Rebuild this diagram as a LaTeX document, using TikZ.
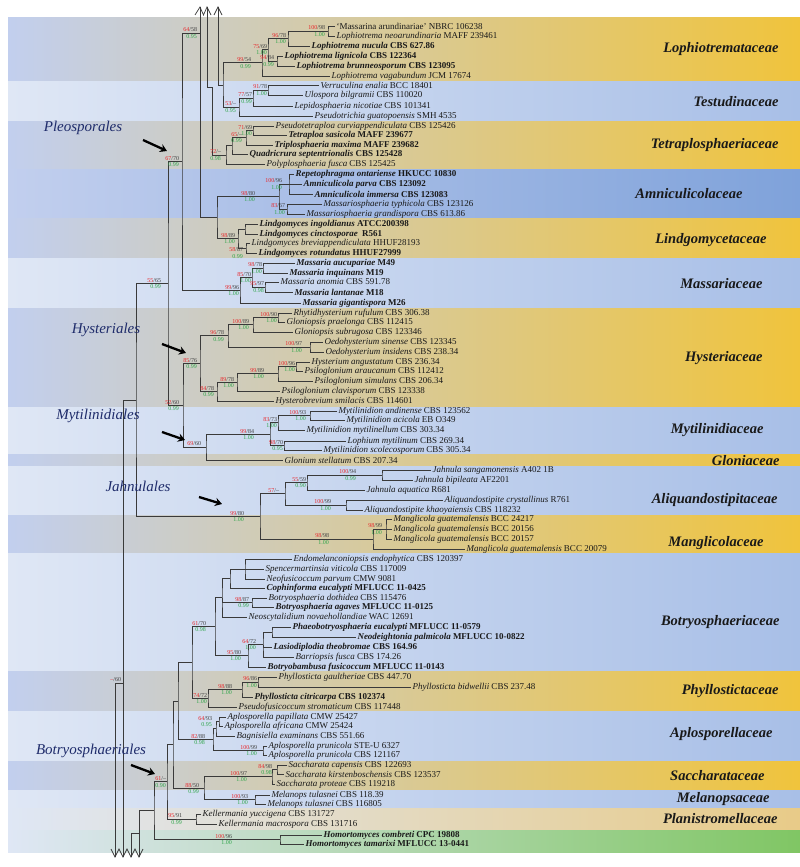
\documentclass[tikz,border=0pt]{standalone}
\usepackage{fontspec}
\setmainfont{Liberation Serif}
\usepackage{tikz}
\usetikzlibrary{arrows.meta, calc}
\definecolor{bandblue}{HTML}{C2CFEE}
\definecolor{bandlight}{HTML}{DFE7F5}
\definecolor{bandgold}{HTML}{F0C43C}
\definecolor{bandsky}{HTML}{A8BFE7}
\definecolor{banddeep}{HTML}{7FA2DA}
\definecolor{bandtan}{HTML}{E8CB88}
\definecolor{bandgreen}{HTML}{80C664}
\definecolor{ordblue}{HTML}{1F2C6B}
\definecolor{bred}{HTML}{E8262A}
\definecolor{bgreen}{HTML}{2FA54A}
\definecolor{treeline}{HTML}{3A3A3A}
\tikzset{
  br/.style={draw=treeline, line width=0.85pt},
  leaf/.style={anchor=west, inner xsep=0pt, inner ysep=0.5pt, outer xsep=1.5pt, font=\fontsize{9}{10}\selectfont, text=black!90},
  supr/.style={anchor=south east, inner sep=0pt, outer sep=1pt, font=\fontsize{6}{6}\selectfont, text=black!75},
  supg/.style={anchor=north east, inner sep=0pt, outer sep=1.2pt, font=\fontsize{6}{6}\selectfont, text=bgreen},
  famlab/.style={anchor=east, font=\fontsize{14.5}{15}\selectfont\bfseries\itshape, text=black!90},
  ordlab/.style={font=\fontsize{15}{16}\selectfont\itshape, text=ordblue},
  ordarrow/.style={line width=2.3pt, -{Stealth[length=7pt,width=8.5pt,inset=2.5pt]}},
}
\newcommand{\tn}[2]{\textit{#1} #2}
\newcommand{\tbn}[2]{\textbf{\textit{#1} #2}}
\newcommand{\supp}[5][0pt]{%
  \node[supr] at ([xshift=#1]#2) {\textcolor{bred}{#3}/#4};
  \node[supg] at ([xshift=#1]#2) {#5};}

\begin{document}
\begin{tikzpicture}[x=1pt, y=-1pt]
  \useasboundingbox (0,0) rectangle (800,867);
  \fill[white] (0,0) rectangle (800,867);

  % coloured family bands
  \foreach \ya/\yb/\cl/\cr in {18/81/bandblue/bandgold, 81/121/bandlight/bandsky,
      121/169/bandblue/bandgold, 169/218/bandblue/banddeep, 218/258/bandblue/bandgold,
      258/308/bandlight/bandsky, 308/407/bandblue/bandgold, 407/454/bandlight/bandsky,
      454/466/bandblue/bandgold, 466/515/bandlight/bandsky, 515/553/bandblue/bandgold,
      553/671/bandlight/bandsky, 671/711/bandblue/bandgold, 711/761/bandlight/bandsky,
      761/790/bandblue/bandgold, 790/808/bandlight/bandsky, 808/830/bandlight/bandtan,
      830/852/bandlight/bandgreen}
    \fill[left color=\cl, right color=\cr] (8,\ya) rectangle (800,\yb);

  % leaves
  \node[leaf] (l1) at (335,26) {`Massarina arundinariae' NBRC 106238};
  \node[leaf] (l2) at (335,36) {\tn{Lophiotrema neoarundinaria}{MAFF 239461}};
  \node[leaf] (l3) at (310,46) {\tbn{Lophiotrema nucula}{CBS 627.86}};
  \node[leaf] (l4) at (283,56) {\tbn{Lophiotrema lignicola}{CBS 122364}};
  \node[leaf] (l5) at (295,66) {\tbn{Lophiotrema brunneosporum}{CBS 123095}};
  \node[leaf] (l6) at (330,76) {\tn{Lophiotrema vagabundum}{JCM 17674}};
  \node[leaf] (l7) at (319,85) {\tn{Verruculina enalia}{BCC 18401}};
  \node[leaf] (l8) at (303,95) {\tn{Ulospora bilgramii}{CBS 110020}};
  \node[leaf] (l9) at (293,106) {\tn{Lepidosphaeria nicotiae}{CBS 101341}};
  \node[leaf] (l10) at (313,116) {\tn{Pseudotrichia guatopoensis}{SMH 4535}};
  \node[leaf] (l11) at (274,126) {\tn{Pseudotetraploa curviappendiculata}{CBS 125426}};
  \node[leaf] (l12) at (287,135) {\tbn{Tetraploa sasicola}{MAFF 239677}};
  \node[leaf] (l13) at (273,145) {\tbn{Triplosphaeria maxima}{MAFF 239682}};
  \node[leaf] (l14) at (248,154) {\tbn{Quadricrura septentrionalis}{CBS 125428}};
  \node[leaf] (l15) at (265,164) {\tn{Polyplosphaeria fusca}{CBS 125425}};
  \node[leaf] (l16) at (294,174) {\tbn{Repetophragma ontariense}{HKUCC 10830}};
  \node[leaf] (l17) at (302,184) {\tbn{Amniculicola parva}{CBS 123092}};
  \node[leaf] (l18) at (313,194) {\tbn{Amniculicola immersa}{CBS 123083}};
  \node[leaf] (l19) at (322,204) {\tn{Massariosphaeria typhicola}{CBS 123126}};
  \node[leaf] (l20) at (305,214) {\tn{Massariosphaeria grandispora}{CBS 613.86}};
  \node[leaf] (l21) at (258,224) {\tbn{Lindgomyces ingoldianus}{ATCC200398}};
  \node[leaf] (l22) at (258,234) {\tbn{Lindgomyces cinctosporae}{ R561}};
  \node[leaf] (l23) at (250,243) {\tn{Lindgomyces breviappendiculata}{HHUF28193}};
  \node[leaf] (l24) at (257,253) {\tbn{Lindgomyces rotundatus}{HHUF27999}};
  \node[leaf] (l25) at (295,263) {\tbn{Massaria aucupariae}{M49}};
  \node[leaf] (l26) at (288,273) {\tbn{Massaria inquinans}{M19}};
  \node[leaf] (l27) at (279,282) {\tn{Massaria anomia}{CBS 591.78}};
  \node[leaf] (l28) at (293,292) {\tbn{Massaria lantanae}{M18}};
  \node[leaf] (l29) at (301,303) {\tbn{Massaria gigantispora}{M26}};
  \node[leaf] (l30) at (292,313) {\tn{Rhytidhysterium rufulum}{CBS 306.38}};
  \node[leaf] (l31) at (285,322) {\tn{Gloniopsis praelonga}{CBS 112415}};
  \node[leaf] (l32) at (293,332) {\tn{Gloniopsis subrugosa}{CBS 123346}};
  \node[leaf] (l33) at (323,342) {\tn{Oedohysterium sinense}{CBS 123345}};
  \node[leaf] (l34) at (324,352) {\tn{Oedohysterium insidens}{CBS 238.34}};
  \node[leaf] (l35) at (310,362) {\tn{Hysterium angustatum}{CBS 236.34}};
  \node[leaf] (l36) at (303,371) {\tn{Psiloglonium araucanum}{CBS 112412}};
  \node[leaf] (l37) at (313,381) {\tn{Psiloglonium simulans}{CBS 206.34}};
  \node[leaf] (l38) at (280,391) {\tn{Psiloglonium clavisporum}{CBS 123338}};
  \node[leaf] (l39) at (274,401) {\tn{Hysterobrevium smilacis}{CBS 114601}};
  \node[leaf] (l40) at (337,411) {\tn{Mytilinidion andinense}{CBS 123562}};
  \node[leaf] (l41) at (345,420) {\tn{Mytilinidion acicola}{EB O349}};
  \node[leaf] (l42) at (305,430) {\tn{Mytilinidion mytilinellum}{CBS 303.34}};
  \node[leaf] (l43) at (346,441) {\tn{Lophium mytilinum}{CBS 269.34}};
  \node[leaf] (l44) at (322,450) {\tn{Mytilinidion scolecosporum}{CBS 305.34}};
  \node[leaf] (l45) at (283,460) {\tn{Glonium stellatum}{CBS 207.34}};
  \node[leaf] (l46) at (431,470) {\tn{Jahnula sangamonensis}{A402 1B}};
  \node[leaf] (l47) at (413,480) {\tn{Jahnula bipileata}{AF2201}};
  \node[leaf] (l48) at (365,490) {\tn{Jahnula aquatica}{R681}};
  \node[leaf] (l49) at (443,500) {\tn{Aliquandostipite crystallinus}{R761}};
  \node[leaf] (l50) at (363,510) {\tn{Aliquandostipite khaoyaiensis}{CBS 118232}};
  \node[leaf] (l51) at (392,519) {\tn{Manglicola guatemalensis}{BCC 24217}};
  \node[leaf] (l52) at (392,529) {\tn{Manglicola guatemalensis}{BCC 20156}};
  \node[leaf] (l53) at (392,539) {\tn{Manglicola guatemalensis}{BCC 20157}};
  \node[leaf] (l54) at (465,549) {\tn{Manglicola guatemalensis}{BCC 20079}};
  \node[leaf] (l55) at (292,559) {\tn{Endomelanconiopsis endophytica}{CBS 120397}};
  \node[leaf] (l56) at (264,569) {\tn{Spencermartinsia viticola}{CBS 117009}};
  \node[leaf] (l57) at (265,579) {\tn{Neofusicoccum parvum}{CMW 9081}};
  \node[leaf] (l58) at (265,588) {\tbn{Cophinforma eucalypti}{MFLUCC 11-0425}};
  \node[leaf] (l59) at (267,598) {\tn{Botryosphaeria dothidea}{CBS 115476}};
  \node[leaf] (l60) at (274,607) {\tbn{Botryosphaeria agaves}{MFLUCC 11-0125}};
  \node[leaf] (l61) at (247,617) {\tn{Neoscytalidium novaehollandiae}{WAC 12691}};
  \node[leaf] (l62) at (291,627) {\tbn{Phaeobotryosphaeria eucalypti}{MFLUCC 11-0579}};
  \node[leaf] (l63) at (356,637) {\tbn{Neodeightonia palmicola}{MFLUCC 10-0822}};
  \node[leaf] (l64) at (272,647) {\tbn{Lasiodiplodia theobromae}{CBS 164.96}};
  \node[leaf] (l65) at (294,657) {\tn{Barriopsis fusca}{CBS 174.26}};
  \node[leaf] (l66) at (266,667) {\tbn{Botryobambusa fusicoccum}{MFLUCC 11-0143}};
  \node[leaf] (l67) at (277,677) {\tn{Phyllosticta gaultheriae}{CBS 447.70}};
  \node[leaf] (l68) at (411,687) {\tn{Phyllosticta bidwellii}{CBS 237.48}};
  \node[leaf] (l69) at (253,697) {\tbn{Phyllosticta citricarpa}{CBS 102374}};
  \node[leaf] (l70) at (237,707) {\tn{Pseudofusicoccum stromaticum}{CBS 117448}};
  \node[leaf] (l71) at (226,717) {\tn{Aplosporella papillata}{CMW 25427}};
  \node[leaf] (l72) at (223,726) {\tn{Aplosporella africana}{CMW 25424}};
  \node[leaf] (l73) at (235,736) {\tn{Bagnisiella examinans}{CBS 551.66}};
  \node[leaf] (l74) at (267,746) {\tn{Aplosporella prunicola}{STE-U 6327}};
  \node[leaf] (l75) at (267,755) {\tn{Aplosporella prunicola}{CBS 121167}};
  \node[leaf] (l76) at (287,765) {\tn{Saccharata capensis}{CBS 122693}};
  \node[leaf] (l77) at (284,774) {\tn{Saccharata kirstenboschensis}{CBS 123537}};
  \node[leaf] (l78) at (275,784) {\tn{Saccharata proteae}{CBS 119218}};
  \node[leaf] (l79) at (270,795) {\tn{Melanops tulasnei}{CBS 118.39}};
  \node[leaf] (l80) at (266,804) {\tn{Melanops tulasnei}{CBS 116805}};
  \node[leaf] (l81) at (201,814) {\tn{Kellermania yuccigena}{CBS 131727}};
  \node[leaf] (l82) at (217,824) {\tn{Kellermania macrospora}{CBS 131716}};
  \node[leaf] (l83) at (322,835) {\tbn{Homortomyces combreti}{CPC 19808}};
  \node[leaf] (l84) at (304,844) {\tbn{Homortomyces tamarixi}{MFLUCC 13-0441}};

  % inner nodes
  \coordinate (n1) at (328,31);     \coordinate (n2) at (288,38.5);
  \coordinate (n3) at (277,61);     \coordinate (n4) at (268,49.75);
  \coordinate (n5) at (262,62.9);   \coordinate (n6) at (268,90);
  \coordinate (n7) at (253,98);     \coordinate (n8) at (239,107);
  \coordinate (n9) at (223,85);     \coordinate (n10) at (253,130.5);
  \coordinate (n11) at (246,137.75); \coordinate (n12) at (232,145.9);
  \coordinate (n13) at (226,155);   \coordinate (n14) at (212,87);
  \coordinate (n15) at (289,184);   \coordinate (n16) at (287,209);
  \coordinate (n17) at (279,196.5); \coordinate (n18) at (245,229);
  \coordinate (n19) at (246,248);   \coordinate (n20) at (238,238.5);
  \coordinate (n19s) at (248,253);
  \coordinate (n21) at (217,217.5); \coordinate (n22) at (200,33);
  \coordinate (n23) at (263,268);   \coordinate (n24) at (265,287);
  \coordinate (n25) at (252,277.5); \coordinate (n26) at (240,290.25);
  \coordinate (n27) at (182,161.6); \coordinate (n28) at (278,317.5);
  \coordinate (n29) at (253,324.75); \coordinate (n30) at (310,347);
  \coordinate (n31) at (228,335.9); \coordinate (n32) at (296,366.5);
  \coordinate (n33) at (278,373.75); \coordinate (n34) at (237,382.4);
  \coordinate (n35) at (217,391.7); \coordinate (n36) at (200,363.8);
  \coordinate (n37) at (310,415.5); \coordinate (n38) at (278,422.75);
  \coordinate (n39) at (284,445.5); \coordinate (n40) at (270,434.1);
  \coordinate (n41) at (206,447);   \coordinate (n42) at (183,405.4);
  \coordinate (n43) at (168,283.5); \coordinate (n44) at (382,475);
  \coordinate (n45) at (307,482.5); \coordinate (n46) at (346,505);
  \coordinate (n47) at (285,493.75); \coordinate (n48) at (386,529);
  \coordinate (n49) at (373,539);   \coordinate (n50) at (260,516.4);
  \coordinate (n51) at (136,400);   \coordinate (n52) at (123,400);
  \coordinate (n53) at (245,569);   \coordinate (n54) at (230,578.5);
  \coordinate (n55) at (252,602.5); \coordinate (n56) at (222,597.75);
  \coordinate (n57) at (272,632);   \coordinate (n58) at (263,644.5);
  \coordinate (n59) at (248,655.75); \coordinate (n60) at (215,626.75);
  \coordinate (n61) at (258,682);   \coordinate (n62) at (242,689.5);
  \coordinate (n63) at (208,698.25); \coordinate (n64) at (192,662.5);
  \coordinate (n65) at (219,721.5); \coordinate (n66) at (216,728.75);
  \coordinate (n67) at (263,750.5); \coordinate (n68) at (213,739.6);
  \coordinate (n69) at (178,701);   \coordinate (n70) at (277,769.5);
  \coordinate (n71) at (272,776.75); \coordinate (n73) at (255,799.5);
  \coordinate (n74) at (204,788.1); \coordinate (n75) at (173,744.6);
  \coordinate (n76) at (196,819);   \coordinate (n77) at (167,781.8);
  \coordinate (n78) at (280,839.5); \coordinate (n79) at (154,810.65);
  \coordinate (n80) at (139,810.65); \coordinate (n82) at (131,833);
  \coordinate (n83) at (139,833);   \coordinate (nq) at (115,683);
  \coordinate (nqj) at (123,683);
  % broken line ends
  \coordinate (t1) at (200,7); \coordinate (t2) at (207,7); \coordinate (t3) at (218,7);
  \coordinate (z1) at (115,857); \coordinate (z2) at (123,857);
  \coordinate (z3) at (131,857); \coordinate (z4) at (139,857);

  % Pleosporales
  \draw[br] (l1) -| (n1) |- (l2);
  \draw[br] (n1) -| (n2) |- (l3);
  \draw[br] (l4) -| (n3) |- (l5);
  \draw[br] (n2) -| (n4) |- (n3);
  \draw[br] (n4) -| (n5) |- (l6);
  \draw[br] (l7) -| (n6) |- (l8);
  \draw[br] (n6) -| (n7) |- (l9);
  \draw[br] (n7) -| (n8) |- (l10);
  \draw[br] (n5) -| (n9) |- (n8);
  \draw[br] (t3) |- (n9);
  \draw[br] (l11) -| (n10) |- (l12);
  \draw[br] (n10) -| (n11) |- (l13);
  \draw[br] (n11) -| (n12) |- (l14);
  \draw[br] (n12) -| (n13) |- (l15);
  \draw[br] (t2) |- (n14) |- (n13);
  \draw[br] (l16) -| (n15) |- (l18);
  \draw[br] (n15) -- (l17);
  \draw[br] (l19) -| (n16) |- (l20);
  \draw[br] (n15) -| (n17) |- (n16);
  \draw[br] (l21) -| (n18) |- (l22);
  \draw[br] (l23) -| (n19) |- (l24);
  \draw[br] (n18) -| (n20) |- (n19);
  \draw[br] (n17) -| (n21) |- (n20);
  \draw[br] (t1) |- (n21);
  \draw[br] (l25) -| (n23) |- (l26);
  \draw[br] (l27) -| (n24) |- (l28);
  \draw[br] (n23) -| (n25) |- (n24);
  \draw[br] (n25) -| (n26) |- (l29);
  \draw[br] (n22) -| (n27) |- (n26);
  % Hysteriales, Mytilinidiales
  \draw[br] (l30) -| (n28) |- (l31);
  \draw[br] (n28) -| (n29) |- (l32);
  \draw[br] (l33) -| (n30) |- (l34);
  \draw[br] (n29) -| (n31) |- (n30);
  \draw[br] (l35) -| (n32) |- (l36);
  \draw[br] (n32) -| (n33) |- (l37);
  \draw[br] (n33) -| (n34) |- (l38);
  \draw[br] (n34) -| (n35) |- (l39);
  \draw[br] (n31) -| (n36) |- (n35);
  \draw[br] (l40) -| (n37) |- (l41);
  \draw[br] (n37) -| (n38) |- (l42);
  \draw[br] (l43) -| (n39) |- (l44);
  \draw[br] (n38) -| (n40) |- (n39);
  \draw[br] (n40) -| (n41) |- (l45);
  \draw[br] (n36) -| (n42) |- (n41);
  \draw[br] (n27) -| (n43) |- (n42);
  % Jahnulales
  \draw[br] (l46) -| (n44) |- (l47);
  \draw[br] (n44) -| (n45) |- (l48);
  \draw[br] (l49) -| (n46) |- (l50);
  \draw[br] (n45) -| (n47) |- (n46);
  \draw[br] (l51) -| (n48) |- (l53);
  \draw[br] (n48) -- (l52);
  \draw[br] (n48) -| (n49) |- (l54);
  \draw[br] (n47) -| (n50) |- (n49);
  \draw[br] (n43) -| (n51) |- (n50);
  \draw[br] (n51) -- (n52) -- (z2);
  % Botryosphaeriales
  \draw[br] (l55) -| (n53) |- (l57);
  \draw[br] (n53) -- (l56);
  \draw[br] (n53) -| (n54) |- (l58);
  \draw[br] (l59) -| (n55) |- (l60);
  \draw[br] (n54) -| (n56) |- (l61);
  \draw[br] (n56) |- (n55);
  \draw[br] (l62) -| (n57) |- (l63);
  \draw[br] (n57) -| (n58) |- (l65);
  \draw[br] (n58) |- (l64);
  \draw[br] (n58) -| (n59) |- (l66);
  \draw[br] (n56) -| (n60) |- (n59);
  \draw[br] (l67) -| (n61) |- (l68);
  \draw[br] (n61) -| (n62) |- (l69);
  \draw[br] (n62) -| (n63) |- (l70);
  \draw[br] (n60) -| (n64) |- (n63);
  \draw[br] (l71) -| (n65) |- (l72);
  \draw[br] (n65) -| (n66) |- (l73);
  \draw[br] (l74) -| (n67) |- (l75);
  \draw[br] (n66) -| (n68) |- (n67);
  \draw[br] (n64) -| (n69) |- (n68);
  \draw[br] (l76) -| (n70) |- (l77);
  \draw[br] (n70) -| (n71) |- (l78);
  \draw[br] (l79) -| (n73) |- (l80);
  \draw[br] (n71) -| (n74) |- (n73);
  \draw[br] (n69) -| (n75) |- (n74);
  \draw[br] (l81) -| (n76) |- (l82);
  \draw[br] (n75) -| (n77) |- (n76);
  \draw[br] (l83) -| (n78) |- (l84);
  \draw[br] (n77) -| (n79) |- (n78);
  \draw[br] (n79) -- (n80) -- (z4);
  \draw[br] (z3) -- (n82) -- (n83);
  \draw[br] (z1) -- (nq) -- (nqj);
  % cut marks
  \draw[br, line width=0.7pt] (195,15) -- (t1) -- (203.5,15) -- (t2) -- (211,15);
  \draw[br, line width=0.7pt] (214,15) -- (t3) -- (222,15);
  \draw[br, line width=0.7pt] (111,849) -- (z1) -- (119,849) -- (z2) -- (127,849) -- (z3) -- (135,849) -- (z4) -- (143,849);

  % support values
  \supp[-2pt]{n1}{100}{98}{1.00}
  \supp[-1pt]{n2}{96}{78}{1.00}
  \supp[-2pt]{n3}{94}{84}{0.99}
  \supp{n4}{75}{69}{1.00}
  \supp[-10pt]{n5}{99}{54}{0.99}
  \supp{n6}{91}{78}{1.00}
  \supp{n7}{77}{57}{0.99}
  \supp[-2pt]{n8}{53}{--}{0.95}
  \supp{n10}{71}{69}{1.00}
  \supp[-3pt]{n11}{65}{--}{0.99}
  \supp[-4pt]{n13}{72}{--}{0.98}
  \supp[-6pt]{n15}{100}{96}{1.00}
  \supp[-1pt]{n16}{83}{67}{1.00}
  \supp[-23pt]{n17}{98}{80}{1.00}
  \supp[-4pt]{n19s}{58}{87}{0.99}
  \supp[-2pt]{n20}{98}{89}{1.00}
  \supp[-2pt]{n22}{64}{58}{0.95}
  \supp{n23}{98}{78}{1.00}
  \supp{n24}{95}{97}{0.98}
  \supp{n25}{85}{70}{1.00}
  \supp{n26}{99}{96}{1.00}
  \supp[-2pt]{n27}{67}{70}{0.99}
  \supp{n28}{100}{90}{1.00}
  \supp[-3pt]{n29}{100}{89}{1.00}
  \supp[-7pt]{n30}{100}{97}{1.00}
  \supp[-3pt]{n31}{96}{78}{0.99}
  \supp{n32}{100}{96}{1.00}
  \supp[-13pt]{n33}{99}{89}{1.00}
  \supp[-2pt]{n34}{89}{78}{1.00}
  \supp[-2pt]{n35}{84}{78}{0.99}
  \supp[-2pt]{n36}{85}{76}{0.99}
  \supp[-3pt]{n37}{100}{93}{1.00}
  \supp{n38}{83}{73}{1.00}
  \supp{n39}{98}{70}{0.95}
  \supp[-15pt]{n40}{99}{84}{1.00}
  \supp[-4pt]{n41}{69}{60}{}
  \supp[-3pt]{n42}{52}{60}{0.99}
  \supp[-6pt]{n43}{55}{65}{0.99}
  \supp[-25pt]{n44}{100}{94}{0.99}
  \supp{n45}{55}{59}{0.90}
  \supp[-14pt]{n46}{100}{99}{1.00}
  \supp[-5pt]{n47}{57}{--}{}
  \supp[-3pt]{n48}{98}{99}{1.00}
  \supp[-43pt]{n49}{98}{98}{1.00}
  \supp[-15pt]{n50}{99}{80}{1.00}
  \supp[-2pt]{n55}{98}{87}{0.99}
  \supp[-6pt]{n58}{64}{72}{1.00}
  \supp[-6pt]{n59}{95}{80}{1.00}
  \supp[-8pt]{n60}{61}{70}{0.98}
  \supp{n61}{96}{86}{1.00}
  \supp[-9pt]{n62}{98}{88}{1.00}
  \supp{n63}{74}{72}{1.00}
  \supp[-6pt]{n65}{64}{93}{0.95}
  \supp[-5pt]{n67}{100}{99}{1.00}
  \supp[-7pt]{n68}{82}{88}{0.98}
  \supp[-4pt]{n70}{84}{98}{0.98}
  \supp[-24pt]{n71}{100}{97}{1.00}
  \supp[-6pt]{n73}{100}{93}{1.00}
  \supp[-4pt]{n74}{88}{50}{0.99}
  \supp[-13pt]{n76}{95}{91}{0.99}
  \supp{n77}{61}{--}{0.90}
  \supp[-47pt]{n78}{100}{96}{1.00}
  \supp[-1pt]{nqj}{--}{60}{}

  % family names
  \node[famlab] (fLop) at (782,49) {Lophiotremataceae};
  \node[famlab] (fTes) at (782,102) {Testudinaceae};
  \node[famlab] (fTet) at (782,145) {Tetraplosphaeriaceae};
  \node[famlab] (fAmn) at (746,194) {Amniculicolaceae};
  \node[famlab] (fLin) at (770,240) {Lindgomycetaceae};
  \node[famlab] (fMas) at (766,284) {Massariaceae};
  \node[famlab] (fHys) at (766,358) {Hysteriaceae};
  \node[famlab] (fMyt) at (767,430) {Mytilinidiaceae};
  \node[famlab] (fGlo) at (783,461) {Gloniaceae};
  \node[famlab] (fAli) at (781,500) {Aliquandostipitaceae};
  \node[famlab] (fMan) at (767,543) {Manglicolaceae};
  \node[famlab] (fBot) at (783,622) {Botryosphaeriaceae};
  \node[famlab] (fPhy) at (782,691) {Phyllostictaceae};
  \node[famlab] (fApl) at (776,734) {Aplosporellaceae};
  \node[famlab] (fSac) at (768,776) {Saccharataceae};
  \node[famlab] (fMel) at (773,799) {Melanopsaceae};
  \node[famlab] (fPla) at (781,819) {Planistromellaceae};

  % orders with arrows
  \node[ordlab] (oPle) at (83,128) {Pleosporales};
  \node[ordlab] (oHys) at (106,330) {Hysteriales};
  \node[ordlab] (oMyt) at (98,416) {Mytilinidiales};
  \node[ordlab] (oJah) at (138,486) {Jahnulales};
  \node[ordlab] (oBot) at (91,751) {Botryosphaeriales};
  \coordinate (aPle) at (143,140); \coordinate (aPleE) at (167,151);
  \coordinate (aHys) at (162,344); \coordinate (aHysE) at (186,353);
  \coordinate (aMyt) at (162,432); \coordinate (aMytE) at (185,440);
  \coordinate (aJah) at (199,497); \coordinate (aJahE) at (222,504);
  \coordinate (aBot) at (131,765); \coordinate (aBotE) at (155,774);
  \draw[ordarrow] (aPle) -- (aPleE);
  \draw[ordarrow] (aHys) -- (aHysE);
  \draw[ordarrow] (aMyt) -- (aMytE);
  \draw[ordarrow] (aJah) -- (aJahE);
  \draw[ordarrow] (aBot) -- (aBotE);
\end{tikzpicture}
\end{document}
